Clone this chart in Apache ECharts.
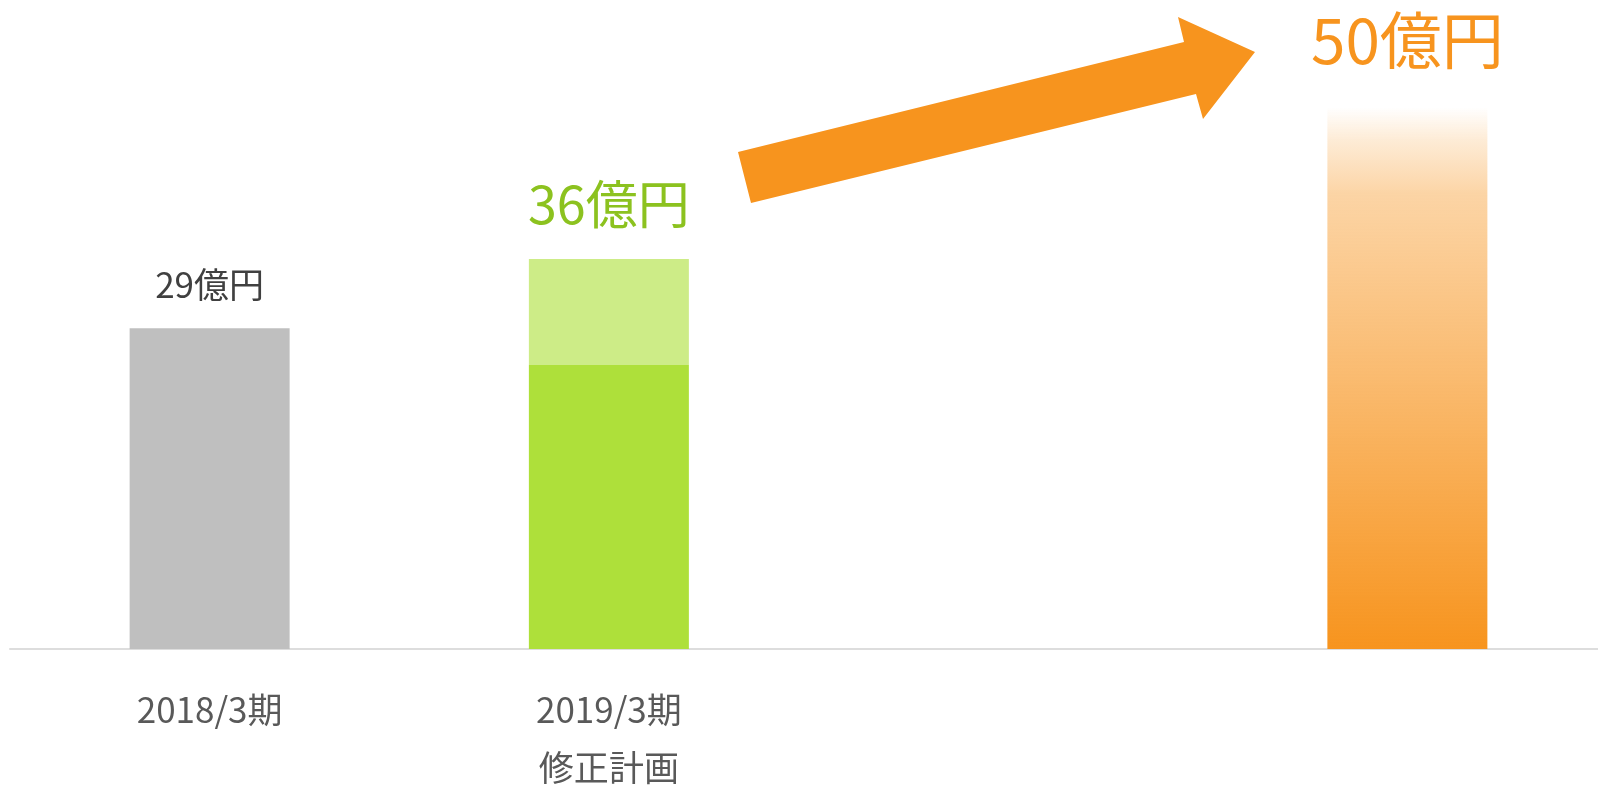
<!DOCTYPE html>
<html>
<head>
<meta charset="utf-8">
<script src="https://cdn.jsdelivr.net/npm/echarts@6/dist/echarts.min.js"></script>
<style>
  html, body { margin: 0; padding: 0; background: #fff; }
  #chart { width: 1598px; height: 786px; }
</style>
</head>
<body>
<div id="chart"></div>
<script>
// categories (3rd slot is an empty spacer in the original)
const categories = ["2018/3期", "2019/3期\n修正計画", "", ""];
const baseValues = [29.6, 26.2, null, 50];
// light green plan increment on top of 2019
const planValues = [null, 9.8, null, null];
const valueLabels = ["29億円", "36億円", "", "50億円"];

const FONT = "'Noto Sans CJK JP', 'Noto Sans', sans-serif";
const ORANGE = "#F7941E";

const chart = echarts.init(document.getElementById("chart"));

const orangeFade = new echarts.graphic.LinearGradient(0, 0, 0, 1, [
  { offset: 0, color: "rgba(247,148,30,0)" },
  { offset: 0.06, color: "rgba(247,148,30,0.18)" },
  { offset: 0.16, color: "rgba(247,148,30,0.4)" },
  { offset: 0.5, color: "rgba(247,148,30,0.64)" },
  { offset: 1, color: "rgba(247,148,30,1)" }
]);

const baseStyles = [
  { color: "#BFBFBF" },
  { color: "#AEE03A" },
  {},
  { color: orangeFade }
];
const baseLabels = [
  { show: true, fontSize: 35, color: "#404040", distance: 26 },
  { show: false },
  { show: false },
  { show: true, fontSize: 62, color: ORANGE, distance: 36 }
];

chart.setOption({
  animation: false,
  grid: { left: 10, right: -9, top: 53, bottom: 137, outerBoundsMode: "none", containLabel: false },
  xAxis: {
    type: "category",
    data: categories,
    axisLine: { lineStyle: { color: "#DDDDDD", width: 2 } },
    axisTick: { show: false },
    axisLabel: {
      color: "#595959",
      fontSize: 35,
      lineHeight: 58,
      margin: 32,
      fontFamily: FONT,
      interval: 0
    }
  },
  yAxis: {
    type: "value",
    min: 0,
    max: 55,
    show: false,
    splitLine: { show: false }
  },
  series: [
    {
      type: "bar",
      stack: "total",
      barWidth: 160,
      data: baseValues.map((v, i) => ({
        value: v,
        itemStyle: baseStyles[i],
        label: Object.assign({
          position: "top",
          fontFamily: FONT,
          formatter: valueLabels[i]
        }, baseLabels[i])
      }))
    },
    {
      type: "bar",
      stack: "total",
      barWidth: 160,
      itemStyle: { color: "#CDEC87" },
      label: {
        show: true,
        position: "top",
        distance: 29,
        fontSize: 52,
        color: "#8CC21F",
        fontFamily: FONT,
        formatter: (p) => valueLabels[p.dataIndex]
      },
      data: planValues
    }
  ],
  graphic: [
    {
      type: "polygon",
      shape: {
        points: [
          [738, 152], [1184, 42], [1178, 17], [1255, 52],
          [1203, 119], [1196, 94], [751, 203]
        ]
      },
      style: { fill: ORANGE }
    }
  ]
});
</script>
</body>
</html>
